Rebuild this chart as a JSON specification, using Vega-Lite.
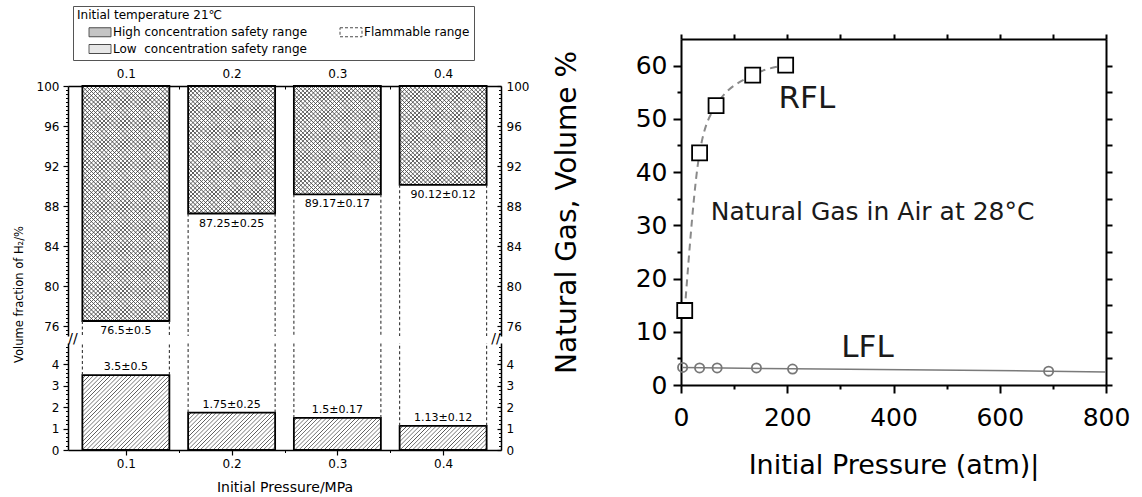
{
"$schema": "https://vega.github.io/schema/vega-lite/v6.json",
"padding": {"left": 13, "top": 5, "right": 5, "bottom": 0},
"datasets": {
 "bars": [
  {"pressure": 0.1, "high": 76.5, "high_label": "76.5±0.5", "low": 3.5, "low_label": "3.5±0.5"},
  {"pressure": 0.2, "high": 87.25, "high_label": "87.25±0.25", "low": 1.75, "low_label": "1.75±0.25"},
  {"pressure": 0.3, "high": 89.17, "high_label": "89.17±0.17", "low": 1.5, "low_label": "1.5±0.17"},
  {"pressure": 0.4, "high": 90.12, "high_label": "90.12±0.12", "low": 1.13, "low_label": "1.13±0.12"}
 ],
 "ranges": [{"range": "High concentration safety range"}, {"range": "Flammable range"}, {"range": "Low\u00a0 concentration safety range"}],
 "rfl": [{"p": 7, "v": 14}, {"p": 35, "v": 43.6}, {"p": 66, "v": 52.5}, {"p": 135, "v": 58.2}, {"p": 197, "v": 60.1}],
 "lfl": [{"p": 3, "v": 3.3}, {"p": 35, "v": 3.2}, {"p": 68, "v": 3.2}, {"p": 142, "v": 3.2}, {"p": 210, "v": 3.0}, {"p": 692, "v": 2.6}],
 "lfl_line": [{"p": 3, "v": 3.3}, {"p": 210, "v": 3.05}, {"p": 692, "v": 2.6}, {"p": 800, "v": 2.45}]
},
"spacing": 24,
"resolve": {"scale": {"fill": "independent", "strokeDash": "independent"}},
"hconcat": [
 {
  "spacing": 7,
  "bounds": "flush",
  "resolve": {"scale": {"fill": "independent", "strokeDash": "independent"}},
  "vconcat": [
   {
    "width": 433, "height": 40,
    "data": {"name": "ranges"},
    "transform": [{"filter": "false"}],
    "mark": {"type": "point", "filled": true},
    "encoding": {
     "fill": {"field": "range", "type": "nominal",
      "scale": {"domain": ["High concentration safety range", "Flammable range", "Low\u00a0 concentration safety range"], "range": ["#adadad", "#ffffff", "#dedede"]},
      "legend": {
       "title": "Initial temperature 21℃", "orient": "none", "legendX": 5, "legendY": -33, "direction": "horizontal",
       "columns": 2, "columnPadding": 20, "rowPadding": 3, "padding": 4,
       "strokeColor": "#555", "fillColor": "#ffffff",
       "symbolType": "M-2.2,-0.9H2.2V0.9H-2.2Z", "symbolSize": 100, "symbolOffset": 17, "labelOffset": 7,
       "symbolStrokeColor": "#000", "symbolStrokeWidth": 1,
       "labelFont": "DejaVu Sans", "labelFontSize": 12, "labelColor": "#000", "labelLimit": 400,
       "titleFont": "DejaVu Sans", "titleFontSize": 12, "titleFontWeight": "normal", "titleColor": "#000", "titlePadding": 4, "titleLimit": 400
      }
     },
     "strokeDash": {"field": "range", "type": "nominal",
      "scale": {"domain": ["High concentration safety range", "Flammable range", "Low\u00a0 concentration safety range"], "range": [[1, 0], [3, 2], [1, 0]]},
      "legend": {
       "title": "Initial temperature 21℃", "orient": "none", "legendX": 5, "legendY": -33, "direction": "horizontal",
       "columns": 2, "columnPadding": 20, "rowPadding": 3, "padding": 4,
       "strokeColor": "#555", "fillColor": "#ffffff",
       "symbolType": "M-2.2,-0.9H2.2V0.9H-2.2Z", "symbolSize": 100, "symbolOffset": 17, "labelOffset": 7,
       "symbolStrokeColor": "#000", "symbolStrokeWidth": 1,
       "labelFont": "DejaVu Sans", "labelFontSize": 12, "labelColor": "#000", "labelLimit": 400,
       "titleFont": "DejaVu Sans", "titleFontSize": 12, "titleFontWeight": "normal", "titleColor": "#000", "titlePadding": 4, "titleLimit": 400
      }
     }
    }
   },
   {
    "width": 433, "height": 250,
    "resolve": {"axis": {"x": "independent", "y": "independent"}},
    "layer": [
     {
      "data": {"name": "bars"},
      "mark": {"type": "tick", "orient": "horizontal", "size": 87, "thickness": 333, "yOffset": -166.5, "clip": true, "opacity": 1, "filled": true,
       "fill": {"gradient": "linear", "x1": 0, "y1": 0, "x2": 0.30847, "y2": 1.18068, "stops": [
{"offset":0.22,"color":"#fff"},{"offset":0.226,"color":"#fff"},{"offset":0.228,"color":"#555"},
{"offset":0.23,"color":"#fff"},{"offset":0.236,"color":"#fff"},{"offset":0.238,"color":"#555"},
{"offset":0.24,"color":"#fff"},{"offset":0.246,"color":"#fff"},{"offset":0.248,"color":"#555"},
{"offset":0.25,"color":"#fff"},{"offset":0.256,"color":"#fff"},{"offset":0.258,"color":"#555"},
{"offset":0.26,"color":"#fff"},{"offset":0.266,"color":"#fff"},{"offset":0.268,"color":"#555"},
{"offset":0.27,"color":"#fff"},{"offset":0.276,"color":"#fff"},{"offset":0.278,"color":"#555"},
{"offset":0.28,"color":"#fff"},{"offset":0.286,"color":"#fff"},{"offset":0.288,"color":"#555"},
{"offset":0.29,"color":"#fff"},{"offset":0.296,"color":"#fff"},{"offset":0.298,"color":"#555"},
{"offset":0.3,"color":"#fff"},{"offset":0.306,"color":"#fff"},{"offset":0.308,"color":"#555"},
{"offset":0.31,"color":"#fff"},{"offset":0.316,"color":"#fff"},{"offset":0.318,"color":"#555"},
{"offset":0.32,"color":"#fff"},{"offset":0.326,"color":"#fff"},{"offset":0.328,"color":"#555"},
{"offset":0.33,"color":"#fff"},{"offset":0.336,"color":"#fff"},{"offset":0.338,"color":"#555"},
{"offset":0.34,"color":"#fff"},{"offset":0.346,"color":"#fff"},{"offset":0.348,"color":"#555"},
{"offset":0.35,"color":"#fff"},{"offset":0.356,"color":"#fff"},{"offset":0.358,"color":"#555"},
{"offset":0.36,"color":"#fff"},{"offset":0.366,"color":"#fff"},{"offset":0.368,"color":"#555"},
{"offset":0.37,"color":"#fff"},{"offset":0.376,"color":"#fff"},{"offset":0.378,"color":"#555"},
{"offset":0.38,"color":"#fff"},{"offset":0.386,"color":"#fff"},{"offset":0.388,"color":"#555"},
{"offset":0.39,"color":"#fff"},{"offset":0.396,"color":"#fff"},{"offset":0.398,"color":"#555"},
{"offset":0.4,"color":"#fff"},{"offset":0.406,"color":"#fff"},{"offset":0.408,"color":"#555"},
{"offset":0.41,"color":"#fff"},{"offset":0.416,"color":"#fff"},{"offset":0.418,"color":"#555"},
{"offset":0.42,"color":"#fff"},{"offset":0.426,"color":"#fff"},{"offset":0.428,"color":"#555"},
{"offset":0.43,"color":"#fff"},{"offset":0.436,"color":"#fff"},{"offset":0.438,"color":"#555"},
{"offset":0.44,"color":"#fff"},{"offset":0.446,"color":"#fff"},{"offset":0.448,"color":"#555"},
{"offset":0.45,"color":"#fff"},{"offset":0.456,"color":"#fff"},{"offset":0.458,"color":"#555"},
{"offset":0.46,"color":"#fff"},{"offset":0.466,"color":"#fff"},{"offset":0.468,"color":"#555"},
{"offset":0.47,"color":"#fff"},{"offset":0.476,"color":"#fff"},{"offset":0.478,"color":"#555"},
{"offset":0.48,"color":"#fff"},{"offset":0.486,"color":"#fff"},{"offset":0.488,"color":"#555"},
{"offset":0.49,"color":"#fff"},{"offset":0.496,"color":"#fff"},{"offset":0.498,"color":"#555"},
{"offset":0.5,"color":"#fff"},{"offset":0.506,"color":"#fff"},{"offset":0.508,"color":"#555"},
{"offset":0.51,"color":"#fff"},{"offset":0.516,"color":"#fff"},{"offset":0.518,"color":"#555"},
{"offset":0.52,"color":"#fff"},{"offset":0.526,"color":"#fff"},{"offset":0.528,"color":"#555"},
{"offset":0.53,"color":"#fff"},{"offset":0.536,"color":"#fff"},{"offset":0.538,"color":"#555"},
{"offset":0.54,"color":"#fff"},{"offset":0.546,"color":"#fff"},{"offset":0.548,"color":"#555"},
{"offset":0.55,"color":"#fff"},{"offset":0.556,"color":"#fff"},{"offset":0.558,"color":"#555"},
{"offset":0.56,"color":"#fff"},{"offset":0.566,"color":"#fff"},{"offset":0.568,"color":"#555"},
{"offset":0.57,"color":"#fff"},{"offset":0.576,"color":"#fff"},{"offset":0.578,"color":"#555"},
{"offset":0.58,"color":"#fff"},{"offset":0.586,"color":"#fff"},{"offset":0.588,"color":"#555"},
{"offset":0.59,"color":"#fff"},{"offset":0.596,"color":"#fff"},{"offset":0.598,"color":"#555"},
{"offset":0.6,"color":"#fff"},{"offset":0.606,"color":"#fff"},{"offset":0.608,"color":"#555"},
{"offset":0.61,"color":"#fff"},{"offset":0.616,"color":"#fff"},{"offset":0.618,"color":"#555"},
{"offset":0.62,"color":"#fff"},{"offset":0.626,"color":"#fff"},{"offset":0.628,"color":"#555"},
{"offset":0.63,"color":"#fff"},{"offset":0.636,"color":"#fff"},{"offset":0.638,"color":"#555"},
{"offset":0.64,"color":"#fff"},{"offset":0.646,"color":"#fff"},{"offset":0.648,"color":"#555"},
{"offset":0.65,"color":"#fff"},{"offset":0.656,"color":"#fff"},{"offset":0.658,"color":"#555"},
{"offset":0.66,"color":"#fff"},{"offset":0.666,"color":"#fff"},{"offset":0.668,"color":"#555"},
{"offset":0.67,"color":"#fff"},{"offset":0.676,"color":"#fff"},{"offset":0.678,"color":"#555"},
{"offset":0.68,"color":"#fff"},{"offset":0.686,"color":"#fff"},{"offset":0.688,"color":"#555"},
{"offset":0.69,"color":"#fff"},{"offset":0.696,"color":"#fff"},{"offset":0.698,"color":"#555"},
{"offset":0.7,"color":"#fff"},{"offset":0.706,"color":"#fff"},{"offset":0.708,"color":"#555"},
{"offset":0.71,"color":"#fff"},{"offset":0.716,"color":"#fff"},{"offset":0.718,"color":"#555"},
{"offset":0.72,"color":"#fff"},{"offset":0.726,"color":"#fff"},{"offset":0.728,"color":"#555"},
{"offset":0.73,"color":"#fff"},{"offset":0.736,"color":"#fff"},{"offset":0.738,"color":"#555"},
{"offset":0.74,"color":"#fff"},{"offset":0.746,"color":"#fff"},{"offset":0.748,"color":"#555"},
{"offset":0.75,"color":"#fff"},{"offset":0.756,"color":"#fff"},{"offset":0.758,"color":"#555"},
{"offset":0.76,"color":"#fff"},{"offset":0.766,"color":"#fff"},{"offset":0.768,"color":"#555"},
{"offset":0.77,"color":"#fff"},{"offset":0.776,"color":"#fff"},{"offset":0.778,"color":"#555"},
{"offset":0.78,"color":"#fff"},{"offset":0.786,"color":"#fff"},{"offset":0.788,"color":"#555"},
{"offset":0.79,"color":"#fff"},{"offset":0.796,"color":"#fff"},{"offset":0.798,"color":"#555"},
{"offset":0.8,"color":"#fff"},{"offset":0.806,"color":"#fff"},{"offset":0.808,"color":"#555"},
{"offset":0.81,"color":"#fff"},{"offset":0.816,"color":"#fff"},{"offset":0.818,"color":"#555"},
{"offset":0.82,"color":"#fff"},{"offset":0.826,"color":"#fff"},{"offset":0.828,"color":"#555"},
{"offset":0.83,"color":"#fff"},{"offset":0.836,"color":"#fff"},{"offset":0.838,"color":"#555"},
{"offset":0.84,"color":"#fff"},{"offset":0.846,"color":"#fff"},{"offset":0.848,"color":"#555"},
{"offset":0.85,"color":"#fff"},{"offset":0.856,"color":"#fff"},{"offset":0.858,"color":"#555"},
{"offset":0.86,"color":"#fff"},{"offset":0.866,"color":"#fff"},{"offset":0.868,"color":"#555"},
{"offset":0.87,"color":"#fff"},{"offset":0.876,"color":"#fff"},{"offset":0.878,"color":"#555"},
{"offset":0.88,"color":"#fff"},{"offset":0.886,"color":"#fff"},{"offset":0.888,"color":"#555"},
{"offset":0.89,"color":"#fff"},{"offset":0.896,"color":"#fff"},{"offset":0.898,"color":"#555"},
{"offset":0.9,"color":"#fff"},{"offset":0.906,"color":"#fff"},{"offset":0.908,"color":"#555"},
{"offset":0.91,"color":"#fff"},{"offset":0.916,"color":"#fff"},{"offset":0.918,"color":"#555"},
{"offset":0.92,"color":"#fff"},{"offset":0.926,"color":"#fff"},{"offset":0.928,"color":"#555"},
{"offset":0.93,"color":"#fff"},{"offset":0.936,"color":"#fff"},{"offset":0.938,"color":"#555"},
{"offset":0.94,"color":"#fff"},{"offset":0.946,"color":"#fff"},{"offset":0.948,"color":"#555"},
{"offset":0.95,"color":"#fff"},{"offset":0.956,"color":"#fff"},{"offset":0.958,"color":"#555"},
{"offset":0.96,"color":"#fff"},{"offset":0.966,"color":"#fff"},{"offset":0.968,"color":"#555"},
{"offset":0.97,"color":"#fff"},{"offset":0.976,"color":"#fff"},{"offset":0.978,"color":"#555"},
{"offset":0.98,"color":"#fff"},{"offset":0.986,"color":"#fff"},{"offset":0.988,"color":"#555"},
{"offset":0.99,"color":"#fff"},{"offset":0.996,"color":"#fff"},{"offset":0.998,"color":"#555"},
{"offset":1,"color":"#fff"}]}},
      "encoding": {
       "x": {"field": "pressure", "type": "quantitative", "scale": {"domain": [0.05, 0.45], "nice": false, "zero": false},
        "axis": {"orient": "top", "values": [0.1, 0.2, 0.3, 0.4], "format": ".1f", "ticks": false, "domainWidth": 1.5, "labelFontSize": 12, "labelPadding": 6, "title": null}},
       "y": {"field": "high", "type": "quantitative", "scale": {"domain": [75, 100], "nice": false, "zero": false},
        "axis": {"orient": "left", "values": [76, 80, 84, 88, 92, 96, 100], "tickSize": 5, "tickWidth": 1.2, "domainWidth": 1.5, "labelFontSize": 12, "labelPadding": 4, "title": "Volume fraction of H₂/%", "titleFontSize": 11.5, "titlePadding": 12, "titleY": 208}}
      }
     },
     {
      "data": {"name": "bars"},
      "mark": {"type": "tick", "orient": "horizontal", "size": 87, "thickness": 333, "yOffset": -166.5, "clip": true, "opacity": 1, "filled": true,
       "fill": {"gradient": "linear", "x1": 0, "y1": 1, "x2": 0.30847, "y2": -0.18068, "stops": [
{"offset":0,"color":"transparent"},{"offset":0.006,"color":"transparent"},{"offset":0.008,"color":"#555"},
{"offset":0.01,"color":"transparent"},{"offset":0.016,"color":"transparent"},{"offset":0.018,"color":"#555"},
{"offset":0.02,"color":"transparent"},{"offset":0.026,"color":"transparent"},{"offset":0.028,"color":"#555"},
{"offset":0.03,"color":"transparent"},{"offset":0.036,"color":"transparent"},{"offset":0.038,"color":"#555"},
{"offset":0.04,"color":"transparent"},{"offset":0.046,"color":"transparent"},{"offset":0.048,"color":"#555"},
{"offset":0.05,"color":"transparent"},{"offset":0.056,"color":"transparent"},{"offset":0.058,"color":"#555"},
{"offset":0.06,"color":"transparent"},{"offset":0.066,"color":"transparent"},{"offset":0.068,"color":"#555"},
{"offset":0.07,"color":"transparent"},{"offset":0.076,"color":"transparent"},{"offset":0.078,"color":"#555"},
{"offset":0.08,"color":"transparent"},{"offset":0.086,"color":"transparent"},{"offset":0.088,"color":"#555"},
{"offset":0.09,"color":"transparent"},{"offset":0.096,"color":"transparent"},{"offset":0.098,"color":"#555"},
{"offset":0.1,"color":"transparent"},{"offset":0.106,"color":"transparent"},{"offset":0.108,"color":"#555"},
{"offset":0.11,"color":"transparent"},{"offset":0.116,"color":"transparent"},{"offset":0.118,"color":"#555"},
{"offset":0.12,"color":"transparent"},{"offset":0.126,"color":"transparent"},{"offset":0.128,"color":"#555"},
{"offset":0.13,"color":"transparent"},{"offset":0.136,"color":"transparent"},{"offset":0.138,"color":"#555"},
{"offset":0.14,"color":"transparent"},{"offset":0.146,"color":"transparent"},{"offset":0.148,"color":"#555"},
{"offset":0.15,"color":"transparent"},{"offset":0.156,"color":"transparent"},{"offset":0.158,"color":"#555"},
{"offset":0.16,"color":"transparent"},{"offset":0.166,"color":"transparent"},{"offset":0.168,"color":"#555"},
{"offset":0.17,"color":"transparent"},{"offset":0.176,"color":"transparent"},{"offset":0.178,"color":"#555"},
{"offset":0.18,"color":"transparent"},{"offset":0.186,"color":"transparent"},{"offset":0.188,"color":"#555"},
{"offset":0.19,"color":"transparent"},{"offset":0.196,"color":"transparent"},{"offset":0.198,"color":"#555"},
{"offset":0.2,"color":"transparent"},{"offset":0.206,"color":"transparent"},{"offset":0.208,"color":"#555"},
{"offset":0.21,"color":"transparent"},{"offset":0.216,"color":"transparent"},{"offset":0.218,"color":"#555"},
{"offset":0.22,"color":"transparent"},{"offset":0.226,"color":"transparent"},{"offset":0.228,"color":"#555"},
{"offset":0.23,"color":"transparent"},{"offset":0.236,"color":"transparent"},{"offset":0.238,"color":"#555"},
{"offset":0.24,"color":"transparent"},{"offset":0.246,"color":"transparent"},{"offset":0.248,"color":"#555"},
{"offset":0.25,"color":"transparent"},{"offset":0.256,"color":"transparent"},{"offset":0.258,"color":"#555"},
{"offset":0.26,"color":"transparent"},{"offset":0.266,"color":"transparent"},{"offset":0.268,"color":"#555"},
{"offset":0.27,"color":"transparent"},{"offset":0.276,"color":"transparent"},{"offset":0.278,"color":"#555"},
{"offset":0.28,"color":"transparent"},{"offset":0.286,"color":"transparent"},{"offset":0.288,"color":"#555"},
{"offset":0.29,"color":"transparent"},{"offset":0.296,"color":"transparent"},{"offset":0.298,"color":"#555"},
{"offset":0.3,"color":"transparent"},{"offset":0.306,"color":"transparent"},{"offset":0.308,"color":"#555"},
{"offset":0.31,"color":"transparent"},{"offset":0.316,"color":"transparent"},{"offset":0.318,"color":"#555"},
{"offset":0.32,"color":"transparent"},{"offset":0.326,"color":"transparent"},{"offset":0.328,"color":"#555"},
{"offset":0.33,"color":"transparent"},{"offset":0.336,"color":"transparent"},{"offset":0.338,"color":"#555"},
{"offset":0.34,"color":"transparent"},{"offset":0.346,"color":"transparent"},{"offset":0.348,"color":"#555"},
{"offset":0.35,"color":"transparent"},{"offset":0.356,"color":"transparent"},{"offset":0.358,"color":"#555"},
{"offset":0.36,"color":"transparent"},{"offset":0.366,"color":"transparent"},{"offset":0.368,"color":"#555"},
{"offset":0.37,"color":"transparent"},{"offset":0.376,"color":"transparent"},{"offset":0.378,"color":"#555"},
{"offset":0.38,"color":"transparent"},{"offset":0.386,"color":"transparent"},{"offset":0.388,"color":"#555"},
{"offset":0.39,"color":"transparent"},{"offset":0.396,"color":"transparent"},{"offset":0.398,"color":"#555"},
{"offset":0.4,"color":"transparent"},{"offset":0.406,"color":"transparent"},{"offset":0.408,"color":"#555"},
{"offset":0.41,"color":"transparent"},{"offset":0.416,"color":"transparent"},{"offset":0.418,"color":"#555"},
{"offset":0.42,"color":"transparent"},{"offset":0.426,"color":"transparent"},{"offset":0.428,"color":"#555"},
{"offset":0.43,"color":"transparent"},{"offset":0.436,"color":"transparent"},{"offset":0.438,"color":"#555"},
{"offset":0.44,"color":"transparent"},{"offset":0.446,"color":"transparent"},{"offset":0.448,"color":"#555"},
{"offset":0.45,"color":"transparent"},{"offset":0.456,"color":"transparent"},{"offset":0.458,"color":"#555"},
{"offset":0.46,"color":"transparent"},{"offset":0.466,"color":"transparent"},{"offset":0.468,"color":"#555"},
{"offset":0.47,"color":"transparent"},{"offset":0.476,"color":"transparent"},{"offset":0.478,"color":"#555"},
{"offset":0.48,"color":"transparent"},{"offset":0.486,"color":"transparent"},{"offset":0.488,"color":"#555"},
{"offset":0.49,"color":"transparent"},{"offset":0.496,"color":"transparent"},{"offset":0.498,"color":"#555"},
{"offset":0.5,"color":"transparent"},{"offset":0.506,"color":"transparent"},{"offset":0.508,"color":"#555"},
{"offset":0.51,"color":"transparent"},{"offset":0.516,"color":"transparent"},{"offset":0.518,"color":"#555"},
{"offset":0.52,"color":"transparent"},{"offset":0.526,"color":"transparent"},{"offset":0.528,"color":"#555"},
{"offset":0.53,"color":"transparent"},{"offset":0.536,"color":"transparent"},{"offset":0.538,"color":"#555"},
{"offset":0.54,"color":"transparent"},{"offset":0.546,"color":"transparent"},{"offset":0.548,"color":"#555"},
{"offset":0.55,"color":"transparent"},{"offset":0.556,"color":"transparent"},{"offset":0.558,"color":"#555"},
{"offset":0.56,"color":"transparent"},{"offset":0.566,"color":"transparent"},{"offset":0.568,"color":"#555"},
{"offset":0.57,"color":"transparent"},{"offset":0.576,"color":"transparent"},{"offset":0.578,"color":"#555"},
{"offset":0.58,"color":"transparent"},{"offset":0.586,"color":"transparent"},{"offset":0.588,"color":"#555"},
{"offset":0.59,"color":"transparent"},{"offset":0.596,"color":"transparent"},{"offset":0.598,"color":"#555"},
{"offset":0.6,"color":"transparent"},{"offset":0.606,"color":"transparent"},{"offset":0.608,"color":"#555"},
{"offset":0.61,"color":"transparent"},{"offset":0.616,"color":"transparent"},{"offset":0.618,"color":"#555"},
{"offset":0.62,"color":"transparent"},{"offset":0.626,"color":"transparent"},{"offset":0.628,"color":"#555"},
{"offset":0.63,"color":"transparent"},{"offset":0.636,"color":"transparent"},{"offset":0.638,"color":"#555"},
{"offset":0.64,"color":"transparent"},{"offset":0.646,"color":"transparent"},{"offset":0.648,"color":"#555"},
{"offset":0.65,"color":"transparent"},{"offset":0.656,"color":"transparent"},{"offset":0.658,"color":"#555"},
{"offset":0.66,"color":"transparent"},{"offset":0.666,"color":"transparent"},{"offset":0.668,"color":"#555"},
{"offset":0.67,"color":"transparent"},{"offset":0.676,"color":"transparent"},{"offset":0.678,"color":"#555"},
{"offset":0.68,"color":"transparent"},{"offset":0.686,"color":"transparent"},{"offset":0.688,"color":"#555"},
{"offset":0.69,"color":"transparent"},{"offset":0.696,"color":"transparent"},{"offset":0.698,"color":"#555"},
{"offset":0.7,"color":"transparent"},{"offset":0.706,"color":"transparent"},{"offset":0.708,"color":"#555"},
{"offset":0.71,"color":"transparent"},{"offset":0.716,"color":"transparent"},{"offset":0.718,"color":"#555"},
{"offset":0.72,"color":"transparent"},{"offset":0.726,"color":"transparent"},{"offset":0.728,"color":"#555"},
{"offset":0.73,"color":"transparent"},{"offset":0.736,"color":"transparent"},{"offset":0.738,"color":"#555"},
{"offset":0.74,"color":"transparent"},{"offset":0.746,"color":"transparent"},{"offset":0.748,"color":"#555"},
{"offset":0.75,"color":"transparent"},{"offset":0.756,"color":"transparent"},{"offset":0.758,"color":"#555"},
{"offset":0.76,"color":"transparent"},{"offset":0.766,"color":"transparent"},{"offset":0.768,"color":"#555"},
{"offset":0.77,"color":"transparent"},{"offset":0.776,"color":"transparent"},{"offset":0.778,"color":"#555"},
{"offset":0.78,"color":"transparent"}]}},
      "encoding": {
       "x": {"field": "pressure", "type": "quantitative", "scale": {"domain": [0.05, 0.45], "nice": false, "zero": false},
        "axis": {"orient": "top", "values": [0.1, 0.2, 0.3, 0.4], "tickSize": -5, "tickWidth": 1.2, "labels": false, "domain": false, "title": null}},
       "y": {"field": "high", "type": "quantitative", "scale": {"domain": [75, 100], "nice": false, "zero": false},
        "axis": {"orient": "left", "values": [75.2,75.6,76,76.4,76.8,77.2,77.6,78,78.4,78.8,79.2,79.6,80,80.4,80.8,81.2,81.6,82,82.4,82.8,83.2,83.6,84,84.4,84.8,85.2,85.6,86,86.4,86.8,87.2,87.6,88,88.4,88.8,89.2,89.6,90,90.4,90.8,91.2,91.6,92,92.4,92.8,93.2,93.6,94,94.4,94.8,95.2,95.6,96,96.4,96.8,97.2,97.6,98,98.4,98.8,99.2,99.6], "tickSize": 2.5, "tickWidth": 1, "labels": false, "domain": false, "title": null}}
      }
     },
     {
      "data": {"name": "bars"},
      "mark": {"type": "bar", "orient": "vertical", "width": 87, "fillOpacity": 0, "stroke": "#000", "strokeWidth": 1.8},
      "encoding": {
       "x": {"field": "pressure", "type": "quantitative", "scale": {"domain": [0.05, 0.45], "nice": false, "zero": false},
        "axis": {"orient": "top", "values": [0.15, 0.25, 0.35], "tickSize": -3, "tickWidth": 1, "labels": false, "domain": false, "title": null}},
       "y": {"field": "high", "type": "quantitative", "scale": {"domain": [75, 100], "nice": false, "zero": false},
        "axis": {"orient": "right", "values": [76, 80, 84, 88, 92, 96, 100], "ticks": false, "domainWidth": 1.5, "labelFontSize": 12, "labelPadding": 5, "title": null}},
       "y2": {"datum": 100}
      }
     },
     {
      "data": {"name": "bars"},
      "mark": {"type": "rule", "xOffset": -43.5, "strokeDash": [3, 2.5], "strokeWidth": 1.1, "color": "#333"},
      "encoding": {
       "x": {"field": "pressure", "type": "quantitative", "scale": {"domain": [0.05, 0.45], "nice": false, "zero": false}, "axis": null},
       "y": {"field": "high", "type": "quantitative", "scale": {"domain": [75, 100], "nice": false, "zero": false},
        "axis": {"orient": "right", "values": [76, 80, 84, 88, 92, 96, 100], "tickSize": -4, "tickWidth": 1.2, "labels": false, "domain": false, "title": null}},
       "y2": {"datum": 75}
      }
     },
     {
      "data": {"name": "bars"},
      "mark": {"type": "rule", "xOffset": 43.5, "strokeDash": [3, 2.5], "strokeWidth": 1.1, "color": "#333"},
      "encoding": {
       "x": {"field": "pressure", "type": "quantitative", "scale": {"domain": [0.05, 0.45], "nice": false, "zero": false}, "axis": null},
       "y": {"field": "high", "type": "quantitative", "scale": {"domain": [75, 100], "nice": false, "zero": false},
        "axis": {"orient": "right", "values": [75.2,75.6,76,76.4,76.8,77.2,77.6,78,78.4,78.8,79.2,79.6,80,80.4,80.8,81.2,81.6,82,82.4,82.8,83.2,83.6,84,84.4,84.8,85.2,85.6,86,86.4,86.8,87.2,87.6,88,88.4,88.8,89.2,89.6,90,90.4,90.8,91.2,91.6,92,92.4,92.8,93.2,93.6,94,94.4,94.8,95.2,95.6,96,96.4,96.8,97.2,97.6,98,98.4,98.8,99.2,99.6], "tickSize": -2.5, "tickWidth": 1, "labels": false, "domain": false, "title": null}},
       "y2": {"datum": 75}
      }
     },
     {
      "data": {"name": "bars"},
      "mark": {"type": "text", "baseline": "top", "dy": 4, "fontSize": 11, "color": "#000"},
      "encoding": {
       "x": {"field": "pressure", "type": "quantitative", "scale": {"domain": [0.05, 0.45], "nice": false, "zero": false}, "axis": null},
       "y": {"field": "high", "type": "quantitative", "scale": {"domain": [75, 100], "nice": false, "zero": false}, "axis": null},
       "text": {"field": "high_label"}
      }
     }
    ]
   },
   {
    "width": 433, "height": 107,
    "resolve": {"axis": {"x": "independent", "y": "independent"}},
    "layer": [
     {
      "data": {"name": "bars"},
      "mark": {"type": "tick", "orient": "horizontal", "size": 87, "thickness": 123, "yOffset": 61.5, "clip": true, "opacity": 1, "filled": true,
       "fill": {"gradient": "linear", "x1": 0, "y1": 0, "x2": 0.80492, "y2": 1.13798, "stops": [
{"offset":0,"color":"#fff"},{"offset":0.012,"color":"#fff"},{"offset":0.016,"color":"#555"},
{"offset":0.02,"color":"#fff"},{"offset":0.032,"color":"#fff"},{"offset":0.036,"color":"#555"},
{"offset":0.04,"color":"#fff"},{"offset":0.052,"color":"#fff"},{"offset":0.056,"color":"#555"},
{"offset":0.06,"color":"#fff"},{"offset":0.072,"color":"#fff"},{"offset":0.076,"color":"#555"},
{"offset":0.08,"color":"#fff"},{"offset":0.092,"color":"#fff"},{"offset":0.096,"color":"#555"},
{"offset":0.1,"color":"#fff"},{"offset":0.112,"color":"#fff"},{"offset":0.116,"color":"#555"},
{"offset":0.12,"color":"#fff"},{"offset":0.132,"color":"#fff"},{"offset":0.136,"color":"#555"},
{"offset":0.14,"color":"#fff"},{"offset":0.152,"color":"#fff"},{"offset":0.156,"color":"#555"},
{"offset":0.16,"color":"#fff"},{"offset":0.172,"color":"#fff"},{"offset":0.176,"color":"#555"},
{"offset":0.18,"color":"#fff"},{"offset":0.192,"color":"#fff"},{"offset":0.196,"color":"#555"},
{"offset":0.2,"color":"#fff"},{"offset":0.212,"color":"#fff"},{"offset":0.216,"color":"#555"},
{"offset":0.22,"color":"#fff"},{"offset":0.232,"color":"#fff"},{"offset":0.236,"color":"#555"},
{"offset":0.24,"color":"#fff"},{"offset":0.252,"color":"#fff"},{"offset":0.256,"color":"#555"},
{"offset":0.26,"color":"#fff"},{"offset":0.272,"color":"#fff"},{"offset":0.276,"color":"#555"},
{"offset":0.28,"color":"#fff"},{"offset":0.292,"color":"#fff"},{"offset":0.296,"color":"#555"},
{"offset":0.3,"color":"#fff"},{"offset":0.312,"color":"#fff"},{"offset":0.316,"color":"#555"},
{"offset":0.32,"color":"#fff"},{"offset":0.332,"color":"#fff"},{"offset":0.336,"color":"#555"},
{"offset":0.34,"color":"#fff"},{"offset":0.352,"color":"#fff"},{"offset":0.356,"color":"#555"},
{"offset":0.36,"color":"#fff"},{"offset":0.372,"color":"#fff"},{"offset":0.376,"color":"#555"},
{"offset":0.38,"color":"#fff"},{"offset":0.392,"color":"#fff"},{"offset":0.396,"color":"#555"},
{"offset":0.4,"color":"#fff"},{"offset":0.412,"color":"#fff"},{"offset":0.416,"color":"#555"},
{"offset":0.42,"color":"#fff"},{"offset":0.432,"color":"#fff"},{"offset":0.436,"color":"#555"},
{"offset":0.44,"color":"#fff"},{"offset":0.452,"color":"#fff"},{"offset":0.456,"color":"#555"},
{"offset":0.46,"color":"#fff"},{"offset":0.472,"color":"#fff"},{"offset":0.476,"color":"#555"},
{"offset":0.48,"color":"#fff"},{"offset":0.492,"color":"#fff"},{"offset":0.496,"color":"#555"},
{"offset":0.5,"color":"#fff"},{"offset":0.512,"color":"#fff"},{"offset":0.516,"color":"#555"},
{"offset":0.52,"color":"#fff"},{"offset":0.532,"color":"#fff"},{"offset":0.536,"color":"#555"},
{"offset":0.54,"color":"#fff"},{"offset":0.552,"color":"#fff"},{"offset":0.556,"color":"#555"},
{"offset":0.56,"color":"#fff"},{"offset":0.572,"color":"#fff"},{"offset":0.576,"color":"#555"},
{"offset":0.58,"color":"#fff"},{"offset":0.592,"color":"#fff"},{"offset":0.596,"color":"#555"},
{"offset":0.6,"color":"#fff"},{"offset":0.612,"color":"#fff"},{"offset":0.616,"color":"#555"},
{"offset":0.62,"color":"#fff"},{"offset":0.632,"color":"#fff"},{"offset":0.636,"color":"#555"},
{"offset":0.64,"color":"#fff"},{"offset":0.652,"color":"#fff"},{"offset":0.656,"color":"#555"},
{"offset":0.66,"color":"#fff"},{"offset":0.672,"color":"#fff"},{"offset":0.676,"color":"#555"},
{"offset":0.68,"color":"#fff"},{"offset":0.692,"color":"#fff"},{"offset":0.696,"color":"#555"},
{"offset":0.7,"color":"#fff"},{"offset":0.712,"color":"#fff"},{"offset":0.716,"color":"#555"},
{"offset":0.72,"color":"#fff"},{"offset":0.732,"color":"#fff"},{"offset":0.736,"color":"#555"},
{"offset":0.74,"color":"#fff"},{"offset":0.752,"color":"#fff"},{"offset":0.756,"color":"#555"},
{"offset":0.76,"color":"#fff"},{"offset":0.772,"color":"#fff"},{"offset":0.776,"color":"#555"},
{"offset":0.78,"color":"#fff"},{"offset":0.792,"color":"#fff"},{"offset":0.796,"color":"#555"},
{"offset":0.8,"color":"#fff"}]}},
      "encoding": {
       "x": {"field": "pressure", "type": "quantitative", "scale": {"domain": [0.05, 0.45], "nice": false, "zero": false},
        "axis": {"orient": "bottom", "values": [0.1, 0.2, 0.3, 0.4], "format": ".1f", "tickSize": 5, "tickWidth": 1.2, "domainWidth": 1.5, "labelFontSize": 12, "labelPadding": 3, "title": "Initial Pressure/MPa", "titleFontSize": 14, "titlePadding": 11}},
       "y": {"field": "low", "type": "quantitative", "scale": {"domain": [0, 5], "nice": false},
        "axis": {"orient": "left", "values": [0, 1, 2, 3, 4], "tickSize": 5, "tickWidth": 1.2, "domainWidth": 1.5, "labelFontSize": 12, "labelPadding": 4, "title": null}}
      }
     },
     {
      "data": {"name": "bars"},
      "mark": {"type": "bar", "orient": "vertical", "width": 87, "fillOpacity": 0, "stroke": "#000", "strokeWidth": 1.8},
      "encoding": {
       "x": {"field": "pressure", "type": "quantitative", "scale": {"domain": [0.05, 0.45], "nice": false, "zero": false},
        "axis": {"orient": "bottom", "values": [0.15, 0.25, 0.35], "tickSize": 2.5, "tickWidth": 1, "labels": false, "domain": false, "title": null}},
       "y": {"field": "low", "type": "quantitative", "scale": {"domain": [0, 5], "nice": false},
        "axis": {"orient": "left", "values": [0.2,0.4,0.6,0.8,1.2,1.4,1.6,1.8,2.2,2.4,2.6,2.8,3.2,3.4,3.6,3.8,4.2,4.4,4.6,4.8], "tickSize": 2.5, "tickWidth": 1, "labels": false, "domain": false, "title": null}},
       "y2": {"datum": 0}
      }
     },
     {
      "data": {"name": "bars"},
      "mark": {"type": "rule", "xOffset": -43.5, "strokeDash": [3, 2.5], "strokeWidth": 1.1, "color": "#333"},
      "encoding": {
       "x": {"field": "pressure", "type": "quantitative", "scale": {"domain": [0.05, 0.45], "nice": false, "zero": false}, "axis": null},
       "y": {"field": "low", "type": "quantitative", "scale": {"domain": [0, 5], "nice": false},
        "axis": {"orient": "right", "values": [0, 1, 2, 3, 4], "ticks": false, "domainWidth": 1.5, "labelFontSize": 12, "labelPadding": 5, "title": null}},
       "y2": {"datum": 5}
      }
     },
     {
      "data": {"name": "bars"},
      "mark": {"type": "rule", "xOffset": 43.5, "strokeDash": [3, 2.5], "strokeWidth": 1.1, "color": "#333"},
      "encoding": {
       "x": {"field": "pressure", "type": "quantitative", "scale": {"domain": [0.05, 0.45], "nice": false, "zero": false}, "axis": null},
       "y": {"field": "low", "type": "quantitative", "scale": {"domain": [0, 5], "nice": false},
        "axis": {"orient": "right", "values": [0, 1, 2, 3, 4], "tickSize": -4, "tickWidth": 1.2, "labels": false, "domain": false, "title": null}},
       "y2": {"datum": 5}
      }
     },
     {
      "data": {"name": "bars"},
      "mark": {"type": "text", "baseline": "bottom", "dy": -3, "fontSize": 11, "color": "#000"},
      "encoding": {
       "x": {"field": "pressure", "type": "quantitative", "scale": {"domain": [0.05, 0.45], "nice": false, "zero": false}, "axis": null},
       "y": {"field": "low", "type": "quantitative", "scale": {"domain": [0, 5], "nice": false},
        "axis": {"orient": "right", "values": [0.2,0.4,0.6,0.8,1.2,1.4,1.6,1.8,2.2,2.4,2.6,2.8,3.2,3.4,3.6,3.8,4.2,4.4,4.6,4.8], "tickSize": -2.5, "tickWidth": 1, "labels": false, "domain": false, "title": null}},
       "text": {"field": "low_label"}
      }
     },
     {
      "data": {"values": [{}]},
      "mark": {"type": "text", "text": "//", "fontSize": 14, "baseline": "middle", "dy": -4, "color": "#000"},
      "encoding": {
       "x": {"datum": 0.05, "type": "quantitative", "scale": {"domain": [0.05, 0.45], "nice": false, "zero": false}, "axis": null},
       "y": {"datum": 5, "type": "quantitative", "scale": {"domain": [0, 5], "nice": false}, "axis": null}
      }
     },
     {
      "data": {"values": [{}]},
      "mark": {"type": "text", "text": "//", "fontSize": 14, "baseline": "middle", "dy": -4, "color": "#000"},
      "encoding": {
       "x": {"datum": 0.45, "type": "quantitative", "scale": {"domain": [0.05, 0.45], "nice": false, "zero": false}, "axis": null},
       "y": {"datum": 5, "type": "quantitative", "scale": {"domain": [0, 5], "nice": false}, "axis": null}
      }
     }
    ]
   }
  ]
 },
 {
  "width": 425, "height": 346,
  "resolve": {"axis": {"x": "independent", "y": "independent"}},
  "layer": [
   {
    "data": {"name": "rfl"},
    "mark": {"type": "line", "interpolate": "monotone", "color": "#8a8a8a", "strokeWidth": 2, "strokeDash": [7, 5]},
    "encoding": {
     "x": {"field": "p", "type": "quantitative", "scale": {"domain": [0, 800], "nice": false},
      "axis": {"orient": "bottom", "values": [0, 200, 400, 600, 800], "tickSize": 8, "tickWidth": 2, "domainWidth": 2, "labelFontSize": 25, "labelPadding": 12, "title": "Initial Pressure (atm)|", "titleFontSize": 27, "titlePadding": 22}},
     "y": {"field": "v", "type": "quantitative", "scale": {"domain": [0, 65], "nice": false},
      "axis": {"orient": "left", "values": [0, 10, 20, 30, 40, 50, 60], "tickSize": 8, "tickWidth": 2, "domainWidth": 2, "labelFontSize": 25, "labelPadding": 6, "title": "Natural Gas, Volume %", "titleFontSize": 28, "titlePadding": 54}}
    }
   },
   {
    "data": {"name": "lfl_line"},
    "mark": {"type": "line", "color": "#7a7a7a", "strokeWidth": 1.5},
    "encoding": {
     "x": {"field": "p", "type": "quantitative", "scale": {"domain": [0, 800], "nice": false},
      "axis": {"orient": "bottom", "values": [100, 300, 500, 700], "tickSize": 4, "tickWidth": 2, "labels": false, "domain": false, "title": null}},
     "y": {"field": "v", "type": "quantitative", "scale": {"domain": [0, 65], "nice": false},
      "axis": {"orient": "left", "values": [5, 15, 25, 35, 45, 55], "tickSize": 4, "tickWidth": 2, "labels": false, "domain": false, "title": null}}
    }
   },
   {
    "data": {"name": "rfl"},
    "mark": {"type": "point", "shape": "square", "size": 225, "filled": true, "fill": "#ffffff", "stroke": "#000", "strokeWidth": 1.8, "opacity": 1},
    "encoding": {
     "x": {"field": "p", "type": "quantitative", "scale": {"domain": [0, 800], "nice": false},
      "axis": {"orient": "top", "values": [0, 100, 200, 300, 400, 500, 600, 700, 800], "tickSize": 5, "tickWidth": 2, "domainWidth": 2, "labels": false, "title": null}},
     "y": {"field": "v", "type": "quantitative", "scale": {"domain": [0, 65], "nice": false},
      "axis": {"orient": "right", "values": [0, 5, 10, 15, 20, 25, 30, 35, 40, 45, 50, 55, 60], "tickSize": 6, "tickWidth": 2, "domainWidth": 2, "labels": false, "title": null}}
    }
   },
   {
    "data": {"name": "lfl"},
    "mark": {"type": "point", "shape": "circle", "size": 85, "filled": false, "stroke": "#777", "strokeWidth": 1.8, "opacity": 1},
    "encoding": {
     "x": {"field": "p", "type": "quantitative", "scale": {"domain": [0, 800], "nice": false}, "axis": null},
     "y": {"field": "v", "type": "quantitative", "scale": {"domain": [0, 65], "nice": false}, "axis": null}
    }
   },
   {
    "data": {"values": [{"label": "RFL", "p": 237, "v": 53.8}, {"label": "LFL", "p": 351, "v": 7}]},
    "mark": {"type": "text", "fontSize": 31, "color": "#1a1a1a", "baseline": "middle", "align": "center"},
    "encoding": {
     "x": {"field": "p", "type": "quantitative", "scale": {"domain": [0, 800], "nice": false}, "axis": null},
     "y": {"field": "v", "type": "quantitative", "scale": {"domain": [0, 65], "nice": false}, "axis": null},
     "text": {"field": "label"}
    }
   },
   {
    "data": {"values": [{"label": "Natural Gas in Air at 28°C", "p": 56, "v": 32.5}]},
    "mark": {"type": "text", "fontSize": 25, "color": "#1a1a1a", "baseline": "middle", "align": "left"},
    "encoding": {
     "x": {"field": "p", "type": "quantitative", "scale": {"domain": [0, 800], "nice": false}, "axis": null},
     "y": {"field": "v", "type": "quantitative", "scale": {"domain": [0, 65], "nice": false}, "axis": null},
     "text": {"field": "label"}
    }
   }
  ]
 }
],
"config": {
 "font": "DejaVu Sans",
 "view": {"stroke": null},
 "axis": {"grid": false, "labelFont": "DejaVu Sans", "titleFont": "DejaVu Sans", "labelColor": "#000", "titleColor": "#000", "domainColor": "#000", "tickColor": "#000", "titleFontWeight": "normal", "labelFlush": false, "labelOverlap": false, "labelBound": false},
 "text": {"font": "DejaVu Sans"},
 "title": {"font": "DejaVu Sans"}
}
}
